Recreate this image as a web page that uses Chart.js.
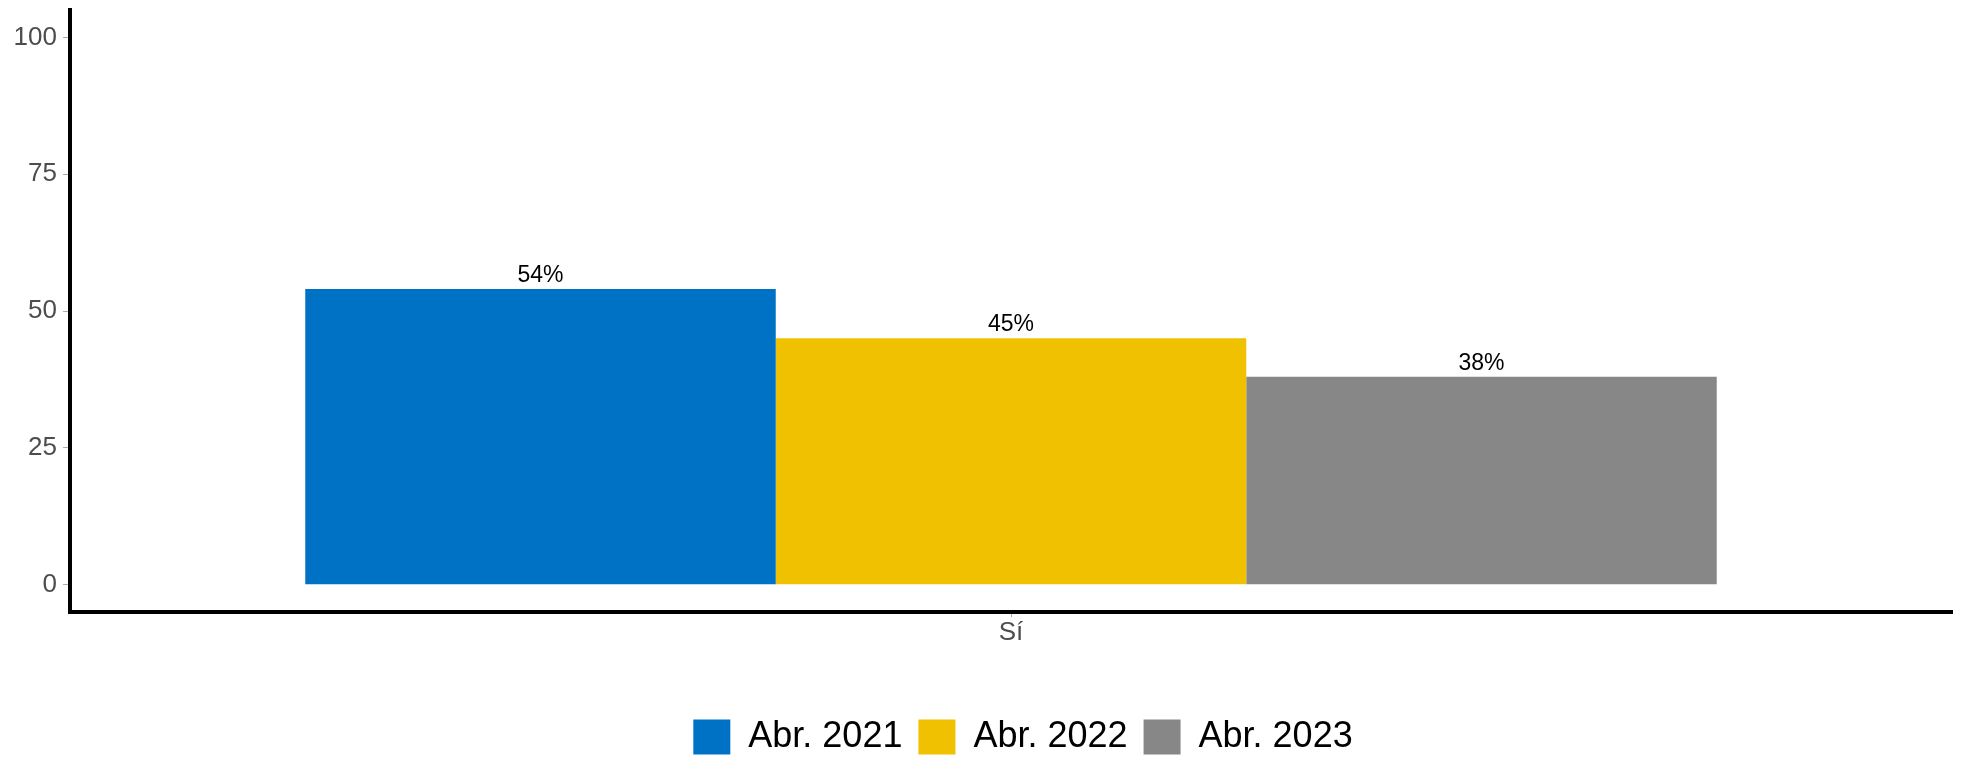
<!DOCTYPE html>
<html>
<head>
<meta charset="utf-8">
<script src="https://cdn.jsdelivr.net/npm/chart.js@4"></script>
<style>
  body { margin: 0; background: #fff; overflow: hidden; }
  .chart { width: 1962px; height: 760px; }
</style>
</head>
<body>
<div class="chart"><canvas id="BarChart"></canvas></div>
<script>
// data
var categorias = ['Sí'];
var series = ['Abr. 2021', 'Abr. 2022', 'Abr. 2023'];
var valores2021 = [54];
var valores2022 = [45];
var valores2023 = [38];
var ticksY = [0, 25, 50, 75, 100];
var cores = ['#0072c6', '#efc100', '#878787'];

// labels "54%" above each bar
var rotulos = {
    id: 'rotulos',
    afterDatasetsDraw: function(chart) {
        var ctx = chart.ctx;
        ctx.save();
        ctx.font = '23px "Liberation Sans", Arial, sans-serif';
        ctx.fillStyle = '#000';
        ctx.textAlign = 'center';
        ctx.textBaseline = 'alphabetic';
        chart.data.datasets.forEach(function(ds, i) {
            chart.getDatasetMeta(i).data.forEach(function(bar, j) {
                ctx.fillText(ds.data[j] + '%', bar.x, bar.y - 7);
            });
        });
        ctx.restore();
    }
};

// legend sits a little right of centre in the original
var legendaDesloc = {
    id: 'legendaDesloc',
    beforeDraw: function(chart) {
        chart.legend.left += 12;
        chart.legend.right += 12;
    }
};

var ctx = document.getElementById('BarChart').getContext('2d');
var BarChart = new Chart(ctx, {
    type: 'bar',
    data: {
        labels: categorias,
        datasets: [
            { label: series[0], data: valores2021, backgroundColor: cores[0] },
            { label: series[1], data: valores2022, backgroundColor: cores[1] },
            { label: series[2], data: valores2023, backgroundColor: cores[2] }
        ]
    },
    options: {
        responsive: true,
        maintainAspectRatio: false,
        animation: false,
        categoryPercentage: 0.75,
        barPercentage: 1,
        layout: {
            padding: { top: 10, right: 10, bottom: -5, left: 0 }
        },
        scales: {
            x: {
                grid: { drawOnChartArea: false, offset: false, tickLength: 5, tickColor: '#aaaaaa' },
                border: { color: '#000', width: 4 },
                ticks: {
                    color: '#4d4d4d',
                    padding: 0,
                    font: { family: '"Liberation Sans", Arial, sans-serif', size: 26 }
                },
                afterFit: function(scale) {
                    scale.height = 91;
                    scale.paddingLeft = 0;
                    scale.paddingRight = 0;
                }
            },
            y: {
                min: -5,
                max: 105,
                grid: { drawOnChartArea: false, tickLength: 7, tickColor: '#aaaaaa' },
                border: { color: '#000', width: 4 },
                ticks: {
                    color: '#4d4d4d',
                    padding: 6,
                    font: { family: '"Liberation Sans", Arial, sans-serif', size: 26 }
                },
                afterBuildTicks: function(scale) {
                    scale.ticks = ticksY.map(function(v) { return { value: v }; });
                },
                afterFit: function(scale) {
                    scale.width = 70;
                    scale.paddingTop = 0;
                    scale.paddingBottom = 0;
                }
            }
        },
        plugins: {
            tooltip: { enabled: false },
            legend: {
                position: 'bottom',
                fullSize: false,
                labels: {
                    boxWidth: 37,
                    boxHeight: 35,
                    padding: 16,
                    color: '#000',
                    font: { family: '"Liberation Sans", Arial, sans-serif', size: 36 }
                }
            }
        }
    },
    plugins: [rotulos, legendaDesloc]
});
</script>
</body>
</html>
